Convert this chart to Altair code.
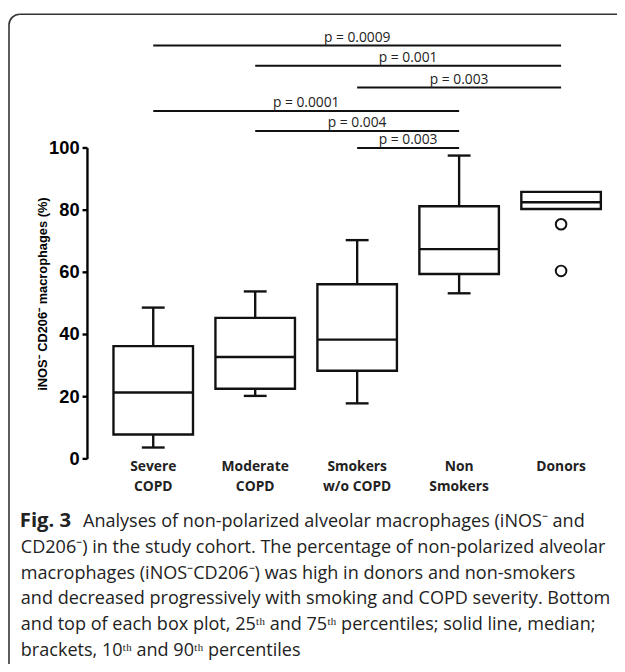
import altair as alt
import pandas as pd

# ---- data ----
categories = ["Severe\nCOPD", "Moderate\nCOPD", "Smokers\nw/o COPD", "Non\nSmokers", "Donors"]
whisker_low = [3.5, 20.1, 17.7, 53.1, None]
q1 = [7.7, 22.4, 28.2, 59.3, 80.2]
median = [21.2, 32.6, 38.2, 67.3, 82.4]
q3 = [36.1, 45.2, 56.0, 81.1, 85.7]
whisker_high = [48.5, 53.7, 70.2, 97.4, None]

outlier_group = [4, 4]
outlier_values = [75.3, 60.3]

bracket_from = [0, 1, 2, 0, 1, 2]
bracket_to = [4, 4, 4, 3, 3, 3]
bracket_level = [132.8, 126.3, 119.3, 111.7, 105.3, 99.8]
bracket_p = ["p = 0.0009", "p = 0.001", "p = 0.003", "p = 0.0001", "p = 0.004", "p = 0.003"]

y_ticks = [0, 20, 40, 60, 80, 100]
y_title = "iNOS\u207b CD206\u207b macrophages (%)"

caption_head = "Fig. 3"
caption_first = "Analyses of non-polarized alveolar macrophages (iNOS\u207b and"
caption_rest = [
    "CD206\u207b) in the study cohort. The percentage of non-polarized alveolar",
    "macrophages (iNOS\u207bCD206\u207b) was high in donors and non-smokers",
    "and decreased progressively with smoking and COPD severity. Bottom",
    "and top of each box plot, 25\u1d57\u02b0 and 75\u1d57\u02b0 percentiles; solid line, median;",
    "brackets, 10\u1d57\u02b0 and 90\u1d57\u02b0 percentiles",
]

# ---- tables ----
boxes = pd.DataFrame({
    "idx": list(range(len(categories))),
    "cat": categories,
    "q1": q1, "median": median, "q3": q3,
})
whisk_rows = []
for i in range(len(categories)):
    if whisker_high[i] is not None:
        whisk_rows.append({"idx": i, "a": q3[i], "b": whisker_high[i], "cap": whisker_high[i]})
    if whisker_low[i] is not None:
        whisk_rows.append({"idx": i, "a": whisker_low[i], "b": q1[i], "cap": whisker_low[i]})
whisk = pd.DataFrame(whisk_rows)
outl = pd.DataFrame({"idx": outlier_group, "v": outlier_values})
brk = pd.DataFrame({"x1": bracket_from, "x2": bracket_to, "lvl": bracket_level, "p": bracket_p})
cats = pd.DataFrame({"idx": list(range(len(categories))), "cat": categories})

X_DOMAIN = [-0.65, 4.5]
xs = alt.Scale(domain=X_DOMAIN, nice=False, zero=False)
ys = alt.Scale(domain=[0, 100], nice=False, zero=False)
HALF_BOX = 0.39
HALF_CAP = 0.112
INK = "#111111"
FRAME = "#333333"

y_axis = alt.Axis(
    values=y_ticks, title=y_title, grid=False,
    domainColor="black", domainWidth=2.4, tickColor="black", tickWidth=2.4,
    tickSize=5, labelPadding=3, labelFont="Liberation Sans", labelFontWeight="bold",
    labelFontSize=18.5, labelColor="black",
    titleFont="Liberation Sans", titleFontWeight="bold", titleFontSize=13,
    titleColor="black", titleAngle=270, titleX=-45, titleY=148,
    titleAlign="center", titleBaseline="middle",
)


def Y(field):
    return alt.Y(field, scale=ys, axis=y_axis)


one = pd.DataFrame({"k": [0]})
# frame: top edge, left edge and rounded top-left corner (right/bottom run off the page)
frame_top = alt.Chart(one).mark_rule(color=FRAME, strokeWidth=1.6).encode(
    x=alt.value(-68), x2=alt.value(537), y=alt.value(-135))
frame_left = alt.Chart(one).mark_rule(color=FRAME, strokeWidth=1.6).encode(
    x=alt.value(-79), y=alt.value(-124), y2=alt.value(527))
frame_corner = alt.Chart(one).mark_arc(
    radius=11, radius2=11, theta=4.7124, theta2=6.2832,
    fill=None, stroke=FRAME, strokeWidth=1.6,
).encode(x=alt.value(-68), y=alt.value(-124))

box = alt.Chart(boxes).transform_calculate(
    xa=f"datum.idx - {HALF_BOX}", xb=f"datum.idx + {HALF_BOX}"
).mark_rect(fill="white", stroke=INK, strokeWidth=2.4).encode(
    x=alt.X("xa:Q", scale=xs, axis=None), x2="xb:Q",
    y=Y("q1:Q"),
    y2="q3:Q",
)
whiskers = alt.Chart(whisk).mark_rule(color=INK, strokeWidth=2.4).encode(
    x=alt.X("idx:Q", scale=xs, axis=None),
    y=Y("a:Q"),
    y2="b:Q",
)
caps = alt.Chart(whisk).transform_calculate(
    xa=f"datum.idx - {HALF_CAP}", xb=f"datum.idx + {HALF_CAP}"
).mark_rule(color=INK, strokeWidth=2.4).encode(
    x=alt.X("xa:Q", scale=xs, axis=None), x2="xb:Q",
    y=Y("cap:Q"),
)
med = alt.Chart(boxes).transform_calculate(
    xa=f"datum.idx - {HALF_BOX}", xb=f"datum.idx + {HALF_BOX}"
).mark_rule(color=INK, strokeWidth=2.4).encode(
    x=alt.X("xa:Q", scale=xs, axis=None), x2="xb:Q",
    y=Y("median:Q"),
)
pts = alt.Chart(outl).mark_point(shape="circle", size=115, filled=False, color=INK, strokeWidth=2, opacity=1).encode(
    x=alt.X("idx:Q", scale=xs, axis=None),
    y=Y("v:Q"),
)
brk_lines = alt.Chart(brk).mark_rule(color=INK, strokeWidth=2).encode(
    x=alt.X("x1:Q", scale=xs, axis=None), x2="x2:Q",
    y=Y("lvl:Q"),
)
brk_text = alt.Chart(brk).transform_calculate(
    mid="(datum.x1 + datum.x2) / 2"
).mark_text(font="Open Sans", fontSize=14, color="#222222", baseline="alphabetic", dy=-4).encode(
    x=alt.X("mid:Q", scale=xs, axis=None),
    y=Y("lvl:Q"),
    text="p:N",
)
cat_text = alt.Chart(cats).mark_text(
    font="Open Sans", fontWeight="bold", fontSize=14, color="#222222",
    baseline="alphabetic", lineBreak="\n", lineHeight=20,
).encode(
    x=alt.X("idx:Q", scale=xs, axis=None),
    y=alt.value(328),
    text="cat:N",
)
cap_head = alt.Chart(pd.DataFrame({"t": [caption_head]})).mark_text(
    font="Open Sans", fontWeight="bold", fontSize=20.5, color="#222222", align="left", baseline="alphabetic"
).encode(x=alt.value(-68), y=alt.value(385), text="t:N")
cap_first = alt.Chart(pd.DataFrame({"t": [caption_first]})).mark_text(
    font="Open Sans", fontSize=18.3, color="#222222", align="left", baseline="alphabetic"
).encode(x=alt.value(-4), y=alt.value(385), text="t:N")
cap_rest = alt.Chart(pd.DataFrame({"t": ["\n".join(caption_rest)]})).mark_text(
    font="Open Sans", fontSize=18.3, color="#222222", align="left", baseline="alphabetic",
    lineBreak="\n", lineHeight=26,
).encode(x=alt.value(-67), y=alt.value(411), text="t:N")

chart = alt.layer(
    frame_top, frame_left, frame_corner, box, whiskers, caps, med, pts,
    brk_lines, brk_text, cat_text, cap_head, cap_first, cap_rest
).properties(
    width=532, height=315,
    autosize=alt.AutoSizeParams(type="none"),
    padding={"left": 80, "top": 137, "right": 5, "bottom": 204},
    background="white",
).configure_view(stroke=None)

chart.save("out.html", embed_options={"renderer": "svg", "actions": False})
